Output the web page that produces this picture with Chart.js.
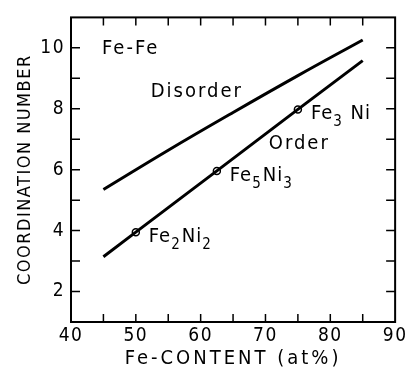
<!DOCTYPE html>
<html lang="en">
<head>
    <meta charset="UTF-8">
    <title>Fe-Fe coordination number</title>
    <script src="https://cdn.jsdelivr.net/npm/chart.js"></script>
    <style>
        html, body { margin: 0; padding: 0; background: #fff; }
        #wrap { width: 409px; height: 371px; }
    </style>
</head>
<body>
    <div id="wrap"><canvas id="coordChart" width="409" height="371"></canvas></div>
    <script>
    // values
    const disorderX = [45, 55, 65, 75, 85];
    const disorderY = [5.35, 6.64, 7.88, 9.09, 10.26];
    const orderX = [45, 50, 62.5, 75, 85];
    const orderY = [3.14, 3.95, 5.96, 7.98, 9.58];
    const compoundX = [50, 62.5, 75];
    const compoundY = [3.95, 5.96, 7.98];
    const compoundNames = [['Fe', '2', 'Ni', '2'], ['Fe', '5', 'Ni', '3'], ['Fe', '3', ' Ni', '']];
    const xTicks = [40, 50, 60, 70, 80, 90];
    const yTicks = [2, 4, 6, 8, 10];

    const FONT = '"DejaVu Sans Condensed", "DejaVu Sans", sans-serif';

    function toPoints(xs, ys) {
        return xs.map((x, i) => ({ x: x, y: ys[i] }));
    }

    // wider letter spacing for the x axis title only
    function spaceTitle(scale, spacing) {
        if (scale._spaced) return;
        const orig = scale.drawTitle.bind(scale);
        scale.drawTitle = function () {
            const c = scale.ctx;
            const old = c.letterSpacing;
            c.letterSpacing = spacing;
            orig();
            c.letterSpacing = old;
        };
        scale._spaced = true;
    }

    // inward ticks on all four sides, frame, and the text labels
    const framePlugin = {
        id: 'frame',
        beforeDraw(chart) {
            chart.ctx.letterSpacing = '1.5px';
            spaceTitle(chart.scales.x, '3px');
        },
        afterDraw(chart) {
            const ctx = chart.ctx;
            const a = chart.chartArea;
            const xs = chart.scales.x, ys = chart.scales.y;
            ctx.save();
            ctx.strokeStyle = '#000';
            ctx.lineWidth = 2;
            ctx.strokeRect(a.left, a.top, a.right - a.left, a.bottom - a.top);
            ctx.lineWidth = 1.5;
            ctx.beginPath();
            for (let v = 45; v < 90; v += 5) {
                const px = xs.getPixelForValue(v);
                ctx.moveTo(px, a.bottom); ctx.lineTo(px, a.bottom - 8);
                ctx.moveTo(px, a.top); ctx.lineTo(px, a.top + 8);
            }
            for (let v = 2; v <= 10; v += 1) {
                const py = ys.getPixelForValue(v);
                ctx.moveTo(a.left, py); ctx.lineTo(a.left + 9, py);
                ctx.moveTo(a.right, py); ctx.lineTo(a.right - 9, py);
            }
            ctx.stroke();

            ctx.fillStyle = '#000';
            ctx.textBaseline = 'alphabetic';
            ctx.textAlign = 'left';
            ctx.font = '20px ' + FONT;
            ctx.letterSpacing = '2px';
            ctx.fillText('Fe-Fe', xs.getPixelForValue(44.8), ys.getPixelForValue(9.81));
            ctx.fillText('Disorder', xs.getPixelForValue(52.3), ys.getPixelForValue(8.39));
            ctx.fillText('Order', xs.getPixelForValue(70.5), ys.getPixelForValue(6.68));

            compoundNames.forEach((parts, i) => {
                let px = xs.getPixelForValue(compoundX[i]) + 13;
                const py = ys.getPixelForValue(compoundY[i]) + 10;
                parts.forEach((t, j) => {
                    if (!t) return;
                    const sub = j % 2 === 1;
                    ctx.font = (sub ? '15px ' : '20px ') + FONT;
                    ctx.letterSpacing = sub ? '0px' : '1px';
                    ctx.fillText(t, px, sub ? py + 7 : py);
                    px += ctx.measureText(t).width + (sub ? 2 : 0);
                });
            });
            ctx.restore();
        }
    };

    const ctx = document.getElementById('coordChart').getContext('2d');
    const coordChart = new Chart(ctx, {
        type: 'scatter',
        data: {
            datasets: [
                {
                    label: 'Disorder',
                    data: toPoints(disorderX, disorderY),
                    showLine: true,
                    borderColor: '#000',
                    borderWidth: 3,
                    pointRadius: 0,
                    tension: 0.4
                },
                {
                    label: 'Order',
                    data: toPoints(orderX, orderY),
                    showLine: true,
                    borderColor: '#000',
                    borderWidth: 3,
                    pointRadius: 0,
                    tension: 0
                },
                {
                    label: 'Compounds',
                    data: toPoints(compoundX, compoundY),
                    showLine: false,
                    pointRadius: 3.5,
                    pointBorderWidth: 1.5,
                    pointBorderColor: '#000',
                    pointBackgroundColor: '#fff'
                }
            ]
        },
        options: {
            responsive: false,
            animation: false,
            layout: {
                padding: { top: 12, right: 5, left: 0, bottom: 0 }
            },
            plugins: {
                legend: { display: false },
                tooltip: { enabled: false }
            },
            scales: {
                x: {
                    type: 'linear',
                    min: 40,
                    max: 90,
                    afterBuildTicks: (s) => { s.ticks = xTicks.map(v => ({ value: v })); },
                    afterFit: (s) => { s.height = 49; },
                    grid: { drawOnChartArea: false, drawTicks: false },
                    border: { display: false },
                    ticks: {
                        color: '#000',
                        padding: 3,
                        maxRotation: 0,
                        font: { family: FONT, size: 19 }
                    },
                    title: {
                        display: true,
                        text: 'Fe-CONTENT (at%)',
                        color: '#000',
                        font: { family: FONT, size: 20 },
                        padding: { top: 0, bottom: 0 }
                    }
                },
                y: {
                    type: 'linear',
                    min: 1,
                    max: 11,
                    afterBuildTicks: (s) => { s.ticks = yTicks.map(v => ({ value: v })); },
                    afterFit: (s) => { s.width = 71; },
                    grid: { drawOnChartArea: false, drawTicks: false },
                    border: { display: false },
                    ticks: {
                        color: '#000',
                        padding: 6,
                        font: { family: FONT, size: 19 }
                    },
                    title: {
                        display: true,
                        text: 'COORDINATION NUMBER',
                        color: '#000',
                        font: { family: FONT, size: 18 },
                        padding: { top: 15, bottom: 0 }
                    }
                }
            }
        },
        plugins: [framePlugin]
    });
    </script>
</body>
</html>
